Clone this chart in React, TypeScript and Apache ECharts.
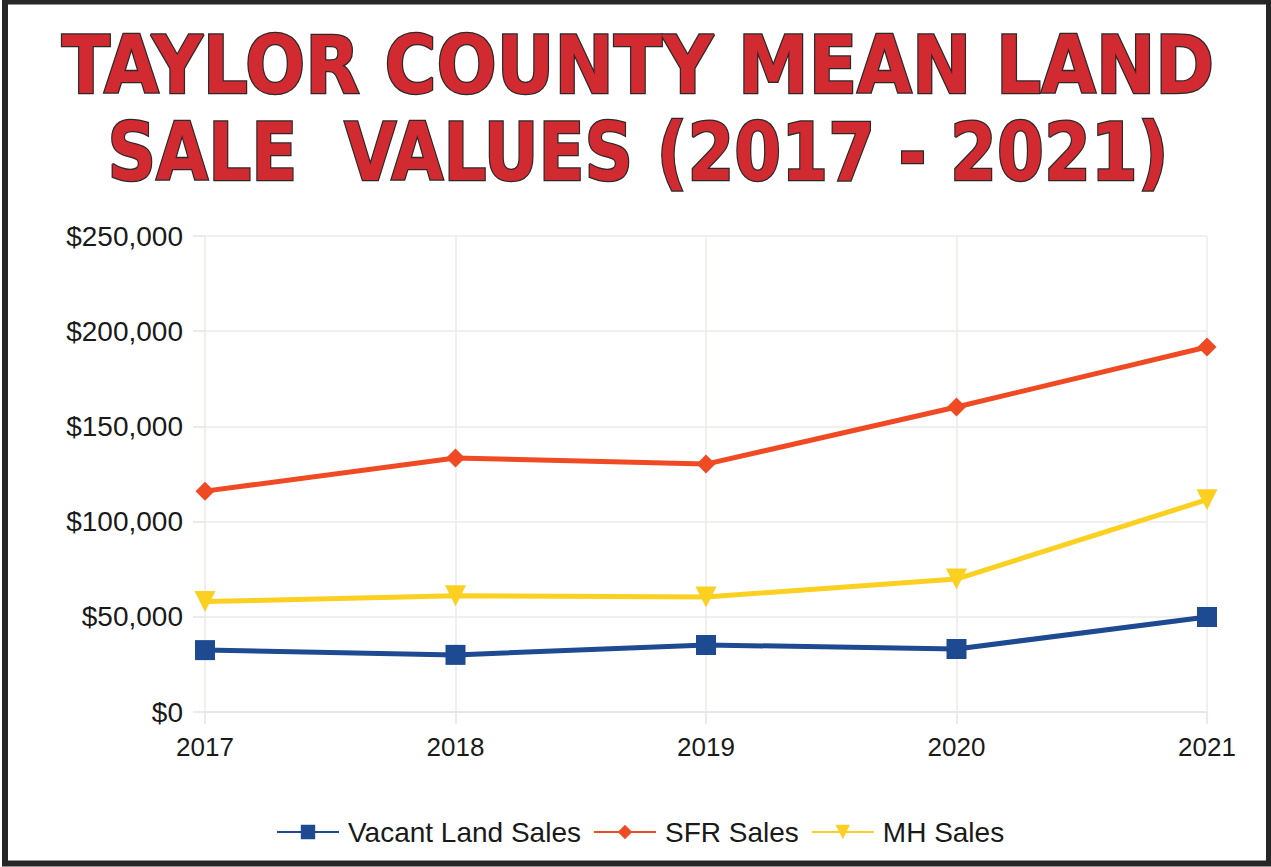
import React, { useEffect, useRef } from "react";
import * as echarts from "echarts";

const years = ["2017", "2018", "2019", "2020", "2021"];
const vacantLand = [32500, 30000, 35200, 33100, 49900];
const sfrSales = [116000, 133400, 130200, 160200, 191700];
const mhSales = [58000, 61000, 60400, 69800, 111500];
const titleLines = ["TAYLOR COUNTY MEAN LAND", "SALE  VALUES (2017 - 2021)"];

export default function App() {
  const ref = useRef<HTMLDivElement>(null);
  useEffect(() => {
    if (!ref.current) return;
    const chart = echarts.init(ref.current, null, { renderer: "svg" });
    const ff = "Liberation Sans, Arial, Helvetica, sans-serif";
    const axisText = { color: "#1a1a1a", fontSize: 26, fontFamily: ff };
    const titleStyle = {
      font: "bold 80px 'DejaVu Sans Condensed', 'DejaVu Sans', sans-serif",
      fill: "#d12a30",
      stroke: "#2a2a2a",
      lineWidth: 2.5,
      textAlign: "center",
      textVerticalAlign: "middle",
    };
    chart.setOption({
      animation: false,
      backgroundColor: "#ffffff",
      graphic: [
        {
          type: "text",
          x: 638,
          y: 65,
          scaleX: 0.985,
          style: { ...titleStyle, text: titleLines[0] },
          silent: true,
        },
        {
          type: "text",
          x: 638,
          y: 152,
          scaleX: 0.937,
          style: { ...titleStyle, text: titleLines[1] },
          silent: true,
        },
        {
          type: "rect",
          shape: { x: 5, y: 1.5, width: 1264, height: 862 },
          style: { fill: "none", stroke: "#262626", lineWidth: 6 },
          silent: true,
        },
      ],
      legend: {
        bottom: 16,
        left: 271,
        itemWidth: 62,
        itemHeight: 18,
        itemGap: 12,
        textStyle: { ...axisText, fontSize: 28, padding: [0, 0, 0, 4] },
        data: ["Vacant Land Sales", "SFR Sales", "MH Sales"],
      },
      grid: { left: 205, right: 64, top: 236, bottom: 155, containLabel: false },
      xAxis: {
        type: "category",
        data: years,
        boundaryGap: false,
        axisLine: { lineStyle: { color: "#e6e3e3", width: 1.5 } },
        axisTick: { show: true, length: 12, lineStyle: { color: "#e6e3e3", width: 1.5 } },
        splitLine: { show: true, lineStyle: { color: "#eeeaea", width: 1.5 } },
        axisLabel: { ...axisText, margin: 22 },
      },
      yAxis: {
        type: "value",
        min: 0,
        max: 250000,
        interval: 50000,
        axisLine: { show: false },
        axisTick: { show: true, length: 12, lineStyle: { color: "#e6e3e3", width: 1.5 } },
        splitLine: { show: true, lineStyle: { color: "#eeeaea", width: 1.5 } },
        axisLabel: {
          ...axisText,
          fontSize: 28,
          margin: 22,
          formatter: (v: number) => "$" + v.toLocaleString("en-US"),
        },
      },
      series: [
        {
          name: "Vacant Land Sales",
          type: "line",
          data: vacantLand,
          symbol: "rect",
          symbolSize: 20,
          lineStyle: { color: "#1e4a91", width: 5 },
          itemStyle: { color: "#1e4a91" },
        },
        {
          name: "SFR Sales",
          type: "line",
          data: sfrSales,
          symbol: "diamond",
          symbolSize: 19,
          lineStyle: { color: "#ef4a24", width: 5 },
          itemStyle: { color: "#ef4a24" },
        },
        {
          name: "MH Sales",
          type: "line",
          data: mhSales,
          symbol: "triangle",
          symbolRotate: 180,
          symbolSize: 21,
          lineStyle: { color: "#fcd020", width: 5 },
          itemStyle: { color: "#fcd020" },
        },
      ],
    });
    return () => chart.dispose();
  }, []);
  return (
    <div
      ref={ref}
      style={{ position: "absolute", left: 0, top: 0, width: 1271, height: 867 }}
    />
  );
}
